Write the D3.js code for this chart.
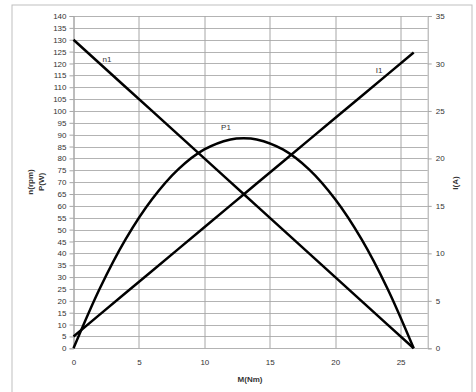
<!DOCTYPE html>
<html>
<head>
<meta charset="utf-8">
<script src="https://cdn.jsdelivr.net/npm/d3@7"></script>
<style>
  body { margin: 0; background: #fff; }
  svg text { font-family: "Liberation Sans", Arial, sans-serif; fill: #333; }
</style>
</head>
<body>
<div id="chart"></div>
<script>
// torque M (Nm)
var torque = [0, 2, 4, 6, 8, 10, 12, 13, 14, 16, 18, 20, 22, 24, 26];
// speed n1 (rpm), left axis
var speed = [130, 120, 110, 100, 90, 80, 70, 65, 60, 50, 40, 30, 20, 10, 0];
// power P1 (W), left axis
var power = [0, 25.1, 46.1, 62.8, 75.4, 83.8, 88, 88.5, 88, 83.8, 75.4, 62.8, 46.1, 25.1, 0];
// current I1 (A), right axis
var current = [1.25, 3.55, 5.85, 8.15, 10.45, 12.75, 15.05, 16.2, 17.35, 19.65, 21.95, 24.25, 26.55, 28.85, 31.15];

var xTicks = [0, 5, 10, 15, 20, 25];
var leftTicks = d3.range(0, 141, 5);
var rightTicks = [0, 5, 10, 15, 20, 25, 30, 35];

var W = 476, H = 392;
var margin = {top: 16, right: 48, bottom: 44, left: 73.5};
var width = 427.7 - margin.left,
    height = 348.3 - margin.top;

var svg = d3.select("#chart").append("svg")
    .attr("width", W)
    .attr("height", H);

// outer chart frame
svg.append("rect")
    .attr("x", 12).attr("y", 5)
    .attr("width", 460).attr("height", 400)
    .attr("fill", "none")
    .attr("stroke", "#bfbfbf")
    .attr("stroke-width", 1);

var g = svg.append("g").attr("transform", "translate(" + margin.left + "," + margin.top + ")");

var x = d3.scaleLinear().domain([0, 27.07]).range([0, width]);
var yL = d3.scaleLinear().domain([0, 140]).range([height, 0]);
var yR = d3.scaleLinear().domain([0, 35]).range([height, 0]);

// gridlines
g.selectAll(".hgrid").data(leftTicks).enter().append("line")
    .attr("class", "hgrid")
    .attr("x1", 0).attr("x2", width)
    .attr("y1", function(d) { return Math.round(yL(d)) + 0.5; })
    .attr("y2", function(d) { return Math.round(yL(d)) + 0.5; })
    .attr("stroke", "#b3b3b3");

g.selectAll(".vgrid").data(xTicks).enter().append("line")
    .attr("class", "vgrid")
    .attr("x1", function(d) { return Math.round(x(d)) + 0.5; })
    .attr("x2", function(d) { return Math.round(x(d)) + 0.5; })
    .attr("y1", 0).attr("y2", height)
    .attr("stroke", "#a6a6a6");

// left axis
var axL = g.append("g")
    .call(d3.axisLeft(yL).tickValues(leftTicks).tickSize(4).tickPadding(3));
// right axis
var axR = g.append("g").attr("transform", "translate(" + width + ",0)")
    .call(d3.axisRight(yR).tickValues(rightTicks).tickSize(4).tickPadding(4));
// bottom axis
var axB = g.append("g").attr("transform", "translate(0," + height + ")")
    .call(d3.axisBottom(x).tickValues(xTicks).tickSize(0).tickPadding(11));

[axL, axR, axB].forEach(function(a) {
    a.selectAll("path").attr("stroke", "#a6a6a6");
    a.selectAll("line").attr("stroke", "#a6a6a6");
    a.selectAll("text").style("font-size", "8px").attr("fill", "#333");
});
axB.select(".domain").remove();

// curves
var lineN = d3.line()
    .x(function(d, i) { return x(torque[i]); })
    .y(function(d) { return yL(d); });
var lineP = d3.line()
    .x(function(d, i) { return x(torque[i]); })
    .y(function(d) { return yL(d); })
    .curve(d3.curveCatmullRom.alpha(0.5));
var lineI = d3.line()
    .x(function(d, i) { return x(torque[i]); })
    .y(function(d) { return yR(d); });

g.append("path").datum(speed).attr("d", lineN)
    .attr("fill", "none").attr("stroke", "#000").attr("stroke-width", 2.5);
g.append("path").datum(power).attr("d", lineP)
    .attr("fill", "none").attr("stroke", "#000").attr("stroke-width", 2.5);
g.append("path").datum(current).attr("d", lineI)
    .attr("fill", "none").attr("stroke", "#000").attr("stroke-width", 2.5);

// series labels
function seriesLabel(txt, px, py) {
    svg.append("text").attr("x", px).attr("y", py)
        .attr("text-anchor", "middle")
        .attr("dy", "0.35em")
        .style("font-size", "8px")
        .text(txt);
}
seriesLabel("n1", 107, 59);
seriesLabel("P1", 226, 127);
seriesLabel("I1", 379, 70);

// axis titles
svg.append("text")
    .attr("transform", "translate(30,182) rotate(-90)")
    .attr("text-anchor", "middle").attr("dy", "0.35em")
    .style("font-size", "8px").style("font-weight", "bold")
    .text("n(rpm)");
svg.append("text")
    .attr("transform", "translate(41.5,182) rotate(-90)")
    .attr("text-anchor", "middle").attr("dy", "0.35em")
    .style("font-size", "8px").style("font-weight", "bold")
    .text("P(W)");
svg.append("text")
    .attr("transform", "translate(455,183) rotate(-90)")
    .attr("text-anchor", "middle").attr("dy", "0.35em")
    .style("font-size", "8px").style("font-weight", "bold")
    .text("I(A)");
svg.append("text")
    .attr("x", 250).attr("y", 379)
    .attr("text-anchor", "middle").attr("dy", "0.35em")
    .style("font-size", "8px").style("font-weight", "bold")
    .text("M(Nm)");
</script>
</body>
</html>
